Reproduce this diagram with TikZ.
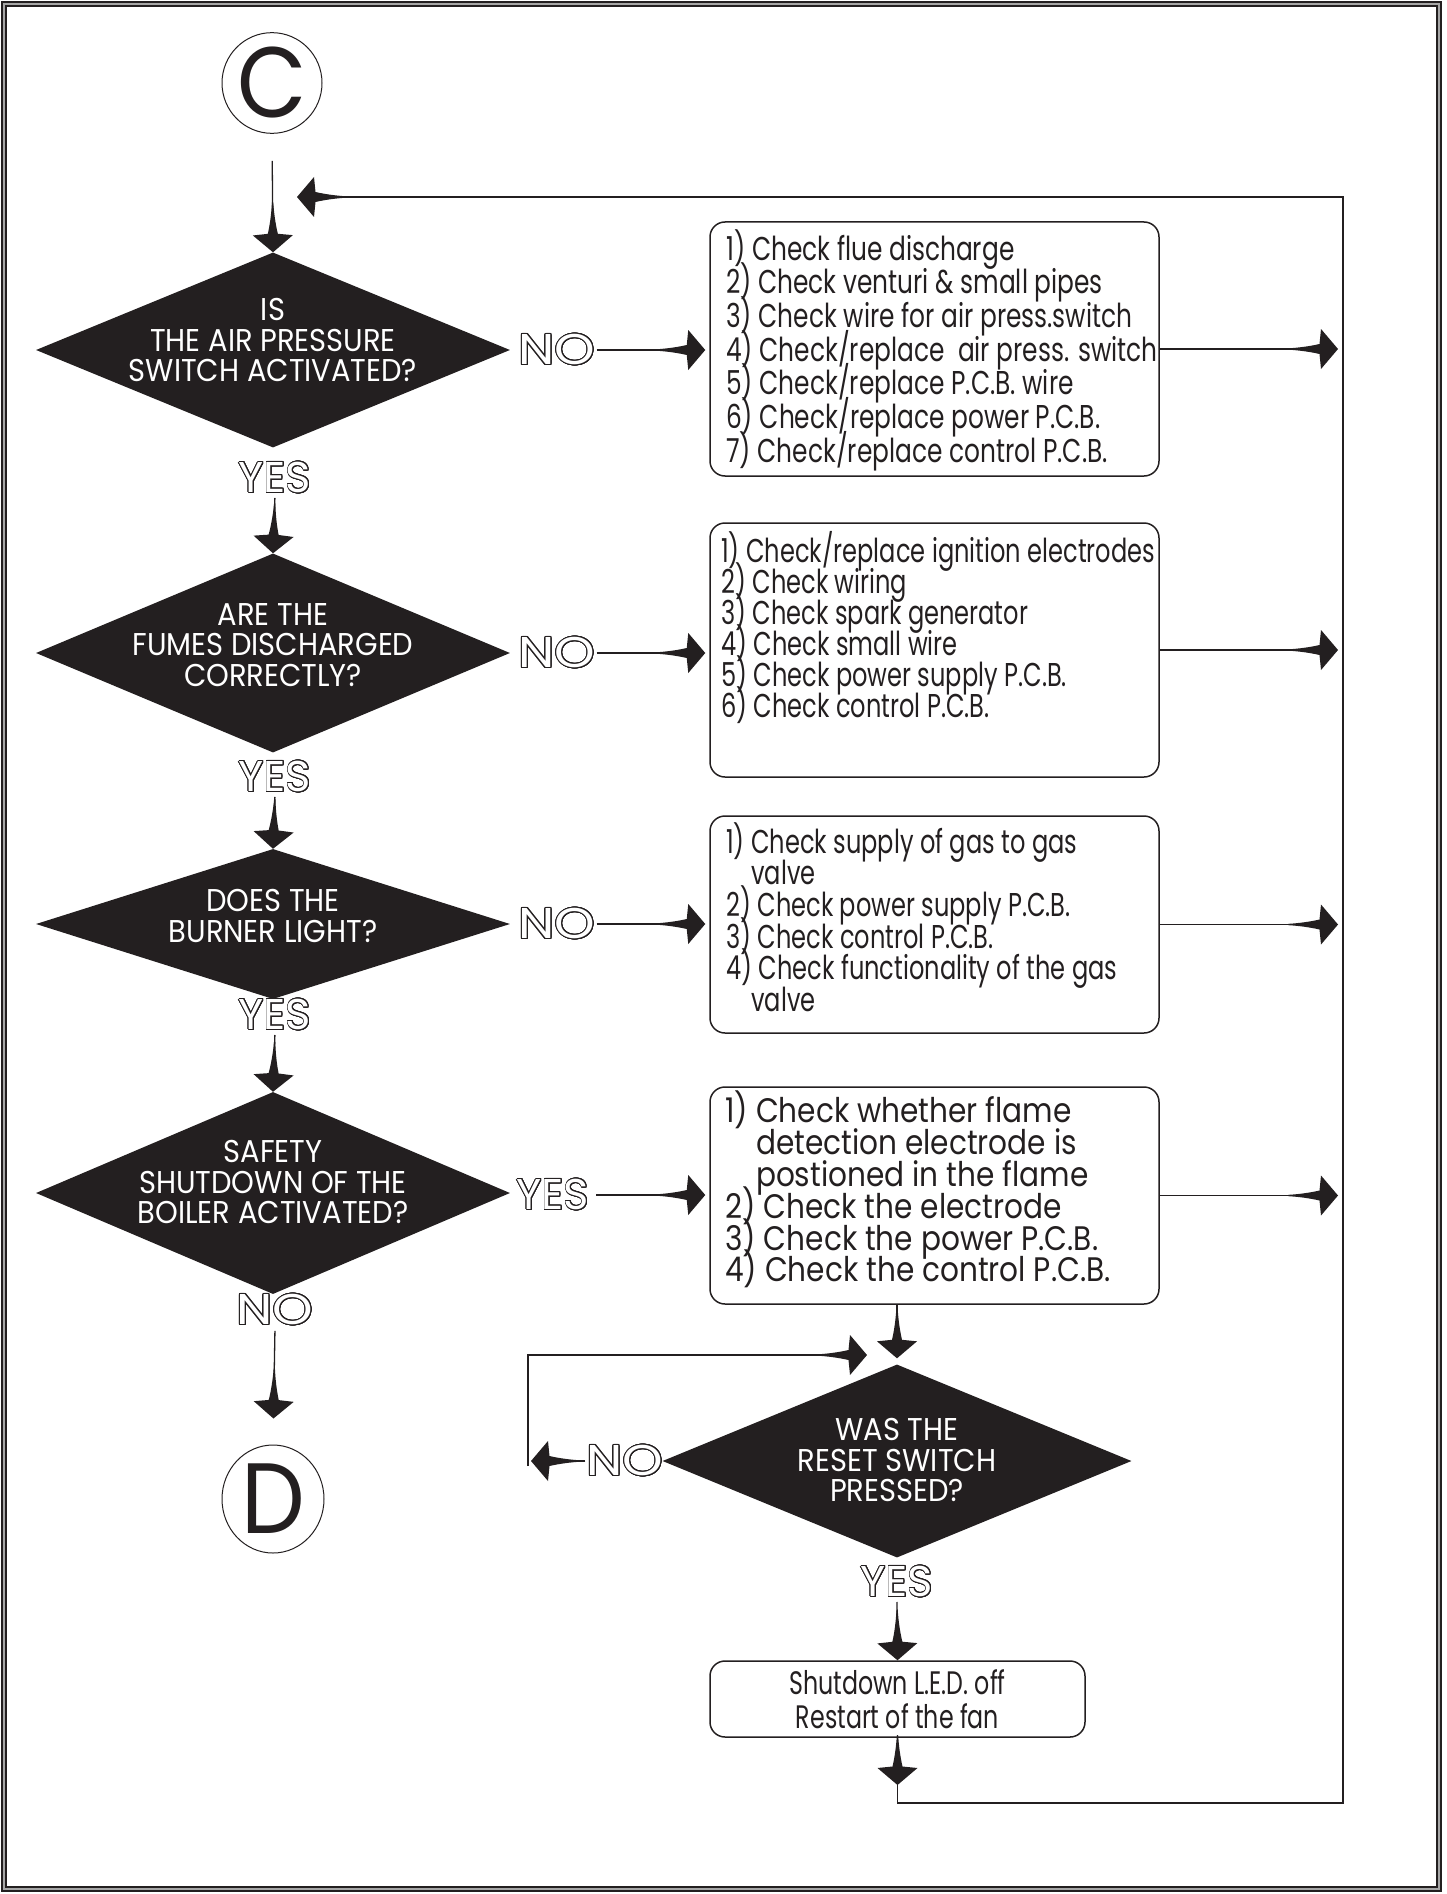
\documentclass[tikz,border=0pt]{standalone}
\usepackage{fontspec}
\usepackage{contour}
\usetikzlibrary{arrows.meta,shapes.geometric}
\setmainfont{Poppins}
\newfontfamily\futA[FakeStretch=0.753]{Poppins}
\newfontfamily\futB[FakeStretch=0.73]{Poppins}
\newfontfamily\futW[FakeStretch=0.87]{Poppins}
\newfontfamily\futD[FakeStretch=0.92]{Poppins}
\newfontfamily\futN[FakeStretch=1.2]{Poppins}
\newfontfamily\futY[FakeStretch=1.0]{Poppins}
\newfontfamily\futC[FakeStretch=0.9]{Poppins}
\definecolor{dk}{RGB}{35,31,32}
\contourlength{0.9pt}
\contournumber{24}
\newcommand\outl[1]{\contour{dk}{\textcolor{white}{#1}}}
\newcommand\fixskip{\lineskiplimit=-100pt\lineskip=0pt\relax}
\pgfdeclarearrow{
  name = Dart,
  setup code = {
    \pgfarrowssettipend{0pt}
    \pgfarrowssetlineend{-30pt}
    \pgfarrowssetbackend{-50pt}
    \pgfarrowshullpoint{0pt}{0pt}
    \pgfarrowshullpoint{-17pt}{20pt}
    \pgfarrowshullpoint{-17pt}{-20pt}
    \pgfarrowshullpoint{-50pt}{0pt}
  },
  drawing code = {
    \pgfpathmoveto{\pgfqpoint{0pt}{0pt}}
    \pgfpathlineto{\pgfqpoint{-17pt}{20pt}}
    \pgfpathlineto{\pgfqpoint{-18.5pt}{5pt}}
    \pgfpathcurveto{\pgfqpoint{-28pt}{2.8pt}}{\pgfqpoint{-39pt}{1.3pt}}{\pgfqpoint{-50pt}{0.65pt}}
    \pgfpathlineto{\pgfqpoint{-50pt}{-0.65pt}}
    \pgfpathcurveto{\pgfqpoint{-39pt}{-1.3pt}}{\pgfqpoint{-28pt}{-2.8pt}}{\pgfqpoint{-18.5pt}{-5pt}}
    \pgfpathlineto{\pgfqpoint{-17pt}{-20pt}}
    \pgfpathclose
    \pgfusepathqfill
  }
}
\tikzset{
  conn/.style={line width=1.3pt, draw=dk, -Dart},
  dia/.style={shape=diamond, fill=dk, draw=none, inner sep=0pt},
  dtext/.style={text=white, font=\futD\fontsize{31.5}{30.5}\selectfont\fixskip, align=center, inner sep=0pt},
  box/.style={draw=dk, rounded corners=15pt, line width=1.5pt, inner sep=0pt},
  btext/.style={anchor=north west, align=left, inner sep=0pt, text=dk},
  lbln/.style={font=\futN\fontsize{43}{43}\selectfont, inner sep=1pt},
  lbly/.style={font=\futY\fontsize{43}{43}\selectfont, inner sep=1pt},
  circ/.style={ellipse, draw=dk, line width=1pt, inner sep=0pt, font=\futC\fontsize{100}{100}\selectfont, text=dk}
}
\begin{document}
\begin{tikzpicture}[x=1pt,y=-1pt]
\useasboundingbox (0,0) rectangle (1447,1894);
% frame
\draw[line width=6pt, dk] (4,4) rectangle (1439,1889);
\draw[line width=2pt, gray!70] (4,4) rectangle (1439,1889);

% connector circles
\node[circ, minimum width=100pt, minimum height=94pt] (cC) at (272,83) {C};
\node[circ, minimum width=102pt, minimum height=108pt] (cD) at (273,1499) {D};

% diamonds
\node[dia, minimum width=474pt, minimum height=195pt] (d1) at (273,350) {};
\node[dtext] (d1t) at (273,340) {IS\\THE AIR PRESSURE\\SWITCH ACTIVATED?};
\node[dia, minimum width=474pt, minimum height=199pt] (d2) at (273,653) {};
\node[dtext] (d2t) at (273,645) {ARE THE\\FUMES DISCHARGED\\CORRECTLY?};
\node[dia, minimum width=474pt, minimum height=150pt] (d3) at (273,924) {};
\node[dtext] (d3t) at (273,916) {DOES THE\\BURNER LIGHT?};
\node[dia, minimum width=474pt, minimum height=202pt] (d4) at (273,1193) {};
\node[dtext] (d4t) at (273,1182) {SAFETY\\SHUTDOWN OF THE\\BOILER ACTIVATED?};
\node[dia, minimum width=469pt, minimum height=193pt] (d5) at (897,1461) {};
\node[dtext] (d5t) at (897,1460) {WAS THE\\RESET SWITCH\\PRESSED?};

% boxes
\node[box, minimum width=449pt, minimum height=254pt] (b1) at (934.5,349) {};
\node[btext, font=\futA\fontsize{33}{33.7}\selectfont\fixskip] (b1t) at (726,229) {%
1) Check flue discharge\\
2) Check venturi \& small pipes\\
3) Check wire for air press.switch\\
4) Check/replace\ \ air press. switch\\
5) Check/replace P.C.B. wire\\
6) Check/replace power P.C.B.\\
7) Check/replace control P.C.B.};

\node[box, minimum width=449pt, minimum height=254pt] (b2) at (934.5,650) {};
\node[btext, font=\futB\fontsize{33}{31}\selectfont\fixskip] (b2t) at (721,531) {%
1) Check/replace ignition electrodes\\
2) Check wiring\\
3) Check spark generator\\
4) Check small wire\\
5) Check power supply P.C.B.\\
6) Check control P.C.B.};

\node[box, minimum width=449pt, minimum height=217pt] (b3) at (934.5,924.5) {};
\node[btext, font=\futB\fontsize{33}{31.7}\selectfont\fixskip] (b3t) at (726,822) {%
1) Check supply of gas to gas\\
\phantom{1) }valve\\
2) Check power supply P.C.B.\\
3) Check control P.C.B.\\
4) Check functionality of the gas\\
\phantom{1) }valve};

\node[box, minimum width=449pt, minimum height=217pt] (b4) at (934.5,1195.5) {};
\node[btext, font=\futW\fontsize{34}{31.8}\selectfont\fixskip] (b4t) at (725,1091) {%
1) Check whether flame\\
\phantom{1) }detection electrode is\\
\phantom{1) }postioned in the flame\\
2) Check the electrode\\
3) Check the power P.C.B.\\
4) Check the control P.C.B.};

\node[box, minimum width=375pt, minimum height=76pt, align=center, font=\futB\fontsize{32.5}{34}\selectfont\fixskip, text=dk] (b5) at (897.5,1699) {Shutdown L.E.D. off\\Restart of the fan};

% labels
\node[lbln] (n1) at (557,350) {\outl{NO}};
\node[lbly] (y1) at (275,478) {\outl{YES}};
\node[lbln] (n2) at (557,653) {\outl{NO}};
\node[lbly] (y2) at (275,777) {\outl{YES}};
\node[lbln] (n3) at (557,924) {\outl{NO}};
\node[lbly] (y3) at (275,1015) {\outl{YES}};
\node[lbly] (y4) at (553,1195) {\outl{YES}};
\node[lbln] (n4) at (275,1310) {\outl{NO}};
\node[lbln] (n5) at (625,1461) {\outl{NO}};
\node[lbly] (y5) at (897,1582) {\outl{YES}};

% helper coordinates
\coordinate (rl) at (1343,0);
\coordinate (lpA) at (531,1461);
\coordinate (lpB) at (528,1466);
\coordinate (lpC) at (867,1355);
\coordinate (mid) at (897.5,1785);
\coordinate (bot) at (897.5,1803);
\coordinate (rtop) at (1343,197);
\coordinate (ttip) at (297,197);

% main flow
\draw[conn, shorten <=27pt] (cC.south) -- (d1.north);
\draw[conn, shorten <=3pt] (y1.south) -- (d2.north);
\draw[conn, shorten <=3pt] (y2.south) -- (d3.north);
\draw[conn, shorten <=3pt] (y3.south) -- (d4.north);
\draw[conn, shorten <=4pt, shorten >=26pt] (n4.south) -- (cD.north);

% NO branches
\draw[conn, shorten >=4pt] (n1.east) -- (n1.east -| b1.west);
\draw[conn, shorten >=4pt] (n2.east) -- (n2.east -| b2.west);
\draw[conn, shorten >=4pt] (n3.east) -- (n3.east -| b3.west);
\draw[conn, shorten <=6pt, shorten >=4pt] (y4.east) -- (y4.east -| b4.west);

% to the return line
\draw[conn, shorten >=5pt] (b1.east) -- (b1.east -| rl);
\draw[conn, shorten >=5pt] (b2.east) -- (b2.east -| rl);
\draw[conn, shorten >=5pt] (b3.east) -- (b3.east -| rl);
\draw[conn, shorten >=5pt] (b4.east) -- (b4.east -| rl);

% reset loop
\draw[conn, shorten >=6pt] (b4.south -| d5.north) -- (d5.north);
\draw[conn] (n5.west) -- (lpA);
\draw[conn] (lpB) |- (lpC);
\draw[conn, shorten <=3pt] (y5.south) -- (b5.north);
\draw[conn] (b5.south) -- (mid);
\draw[conn] (mid) -- (bot) -| (rtop) -- (ttip);
\end{tikzpicture}
\end{document}
